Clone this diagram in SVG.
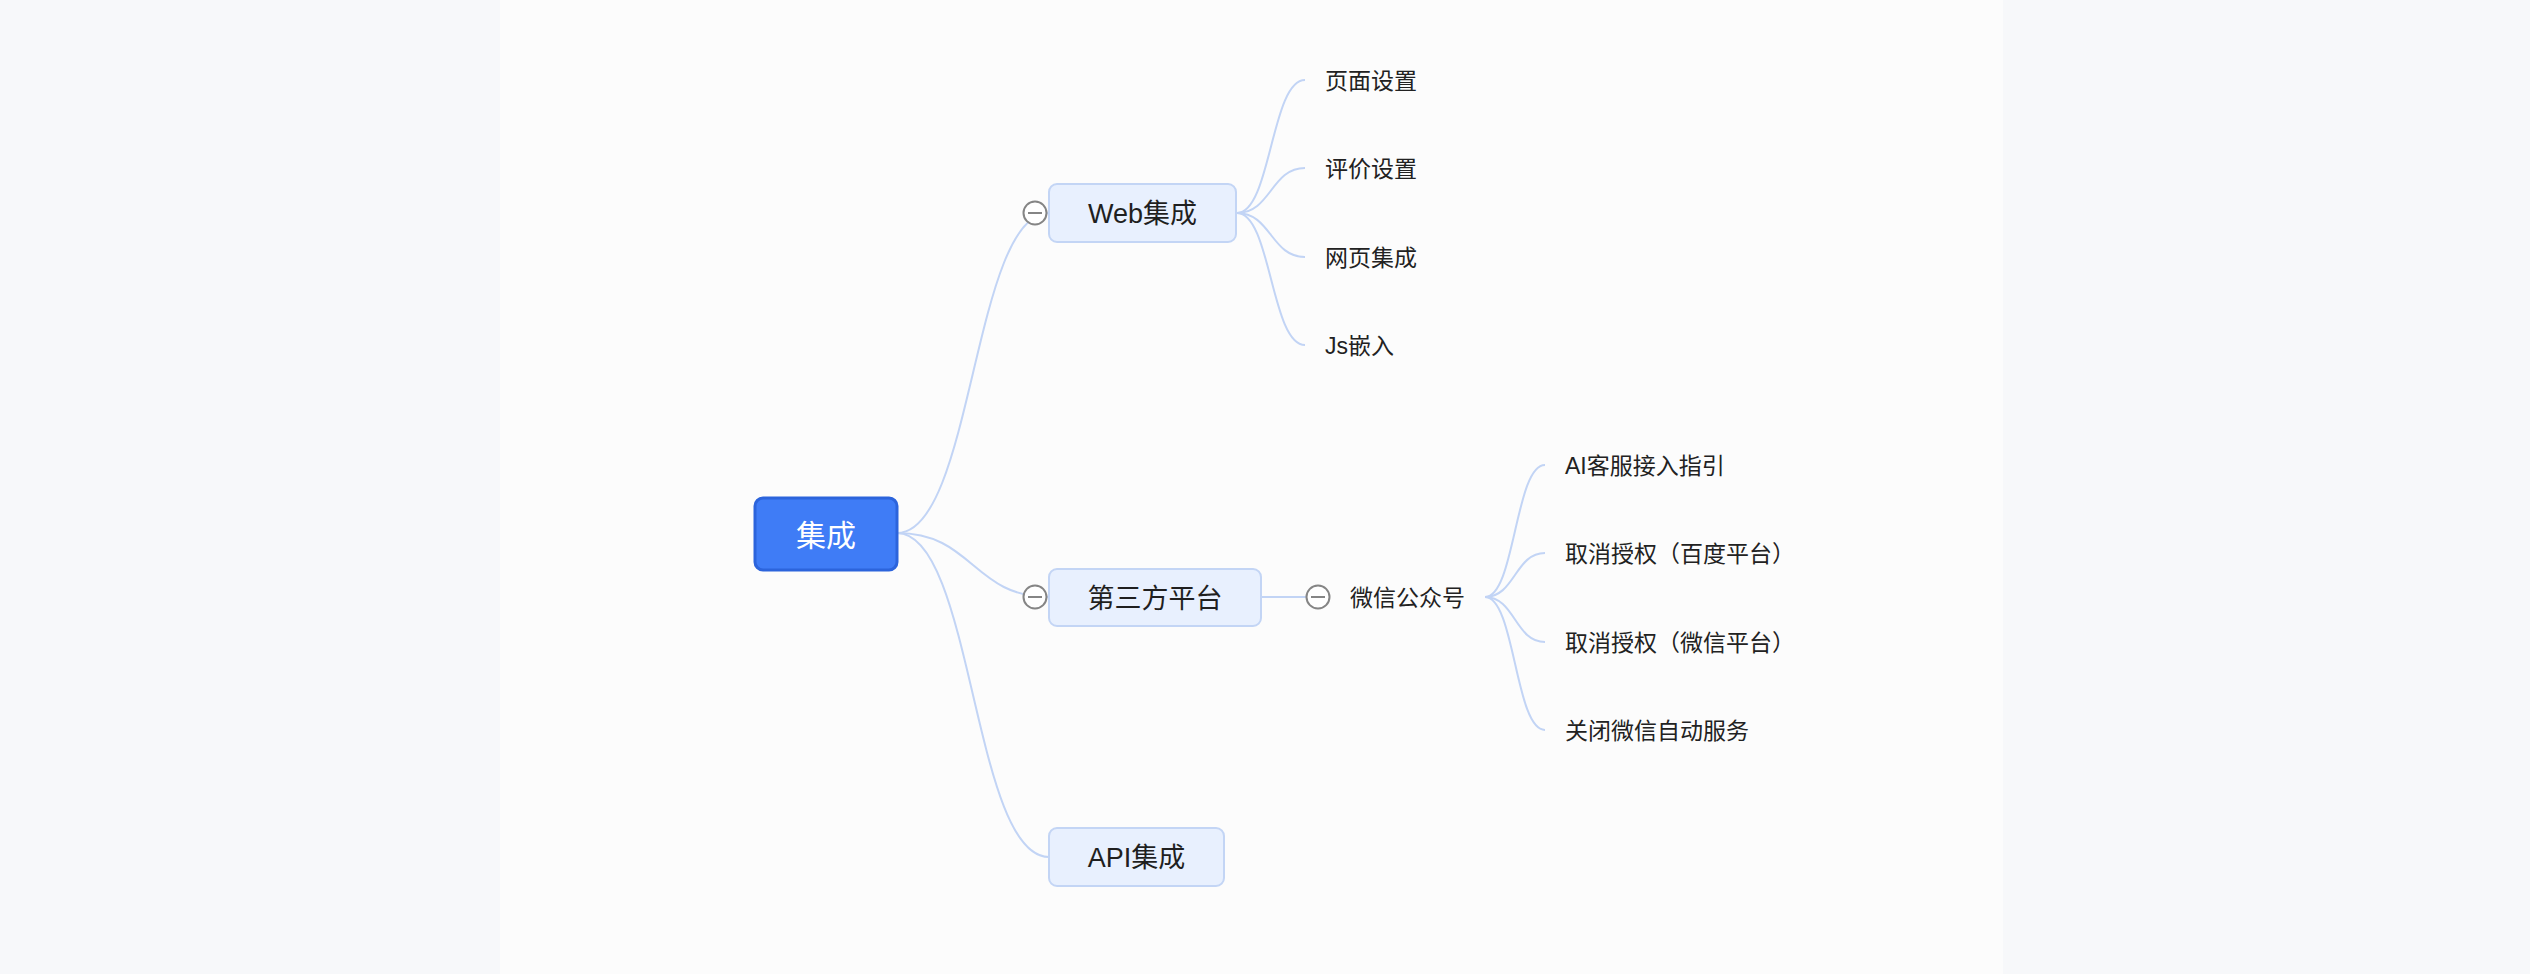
<svg xmlns="http://www.w3.org/2000/svg" width="2530" height="974" viewBox="0 0 2530 974">
<style>
.bg{fill:#f7f8fa}
.panel{fill:#fcfcfc}
.conn{fill:none;stroke:#c2d4f5;stroke-width:2}
.main{fill:#e8f0fe;stroke:#c3d5f5;stroke-width:2}
.root{fill:#3f7cf6;stroke:#2c64dc;stroke-width:3}
.t{font-family:"Liberation Sans","Noto Sans CJK SC",sans-serif}
.tm{font-size:27px;fill:#1f1f1f;text-anchor:middle}
.ts{font-size:23px;fill:#222222}
.tr{font-size:30px;fill:#ffffff;text-anchor:middle}
.tog circle{fill:#ffffff;stroke:#858585;stroke-width:2}
.tog line{stroke:#858585;stroke-width:2}
</style>
<rect class="bg" x="0" y="0" width="2530" height="974"/>
<rect class="panel" x="500" y="0" width="1503" height="974"/>
<g id="connectors">
<path class="conn" d="M897 533 C973 533 973 213 1049 213"/>
<path class="conn" d="M897 533 C973 533 973 597 1049 597"/>
<path class="conn" d="M897 533 C973 533 973 857 1049 857"/>
<path class="conn" d="M1237 213 C1271 213 1271 80 1305 80"/>
<path class="conn" d="M1237 213 C1271 213 1271 168 1305 168"/>
<path class="conn" d="M1237 213 C1271 213 1271 257 1305 257"/>
<path class="conn" d="M1237 213 C1271 213 1271 345 1305 345"/>
<path class="conn" d="M1261 597 L1330 597"/>
<path class="conn" d="M1485 597 C1515 597 1515 465 1545 465"/>
<path class="conn" d="M1485 597 C1515 597 1515 553 1545 553"/>
<path class="conn" d="M1485 597 C1515 597 1515 642 1545 642"/>
<path class="conn" d="M1485 597 C1515 597 1515 730 1545 730"/>
</g>
<g id="root">
<rect class="root" x="755" y="498" width="142" height="72" rx="8"/>
<text class="t tr" x="826" y="546">集成</text>
</g>
<g id="web">
<rect class="main" x="1049" y="184" width="187" height="58" rx="8"/>
<text class="t tm" x="1142.5" y="222.5">Web集成</text>
<g class="tog"><circle cx="1035" cy="213" r="11.5"/><line x1="1028" y1="213" x2="1042" y2="213"/></g>
</g>
<g id="third">
<rect class="main" x="1049" y="569" width="212" height="57" rx="8"/>
<text class="t tm" x="1155" y="607.5">第三方平台</text>
<g class="tog"><circle cx="1035" cy="597" r="11.5"/><line x1="1028" y1="597" x2="1042" y2="597"/></g>
</g>
<g id="api">
<rect class="main" x="1049" y="828" width="175" height="58" rx="8"/>
<text class="t tm" x="1136.5" y="866.5">API集成</text>
</g>
<g id="web-page"><text class="t ts" x="1325" y="88.5">页面设置</text></g>
<g id="web-rate"><text class="t ts" x="1325" y="176.5">评价设置</text></g>
<g id="web-embed"><text class="t ts" x="1325" y="265.5">网页集成</text></g>
<g id="web-js"><text class="t ts" x="1325" y="353.5">Js嵌入</text></g>
<g id="wechat">
<text class="t ts" x="1350" y="605.5">微信公众号</text>
<g class="tog"><circle cx="1318" cy="597" r="11.5"/><line x1="1311" y1="597" x2="1325" y2="597"/></g>
</g>
<g id="wx-ai"><text class="t ts" x="1565" y="473.5">AI客服接入指引</text></g>
<g id="wx-baidu"><text class="t ts" x="1565" y="561.5">取消授权（百度平台）</text></g>
<g id="wx-weixin"><text class="t ts" x="1565" y="650.5">取消授权（微信平台）</text></g>
<g id="wx-close"><text class="t ts" x="1565" y="738.5">关闭微信自动服务</text></g>
</svg>
